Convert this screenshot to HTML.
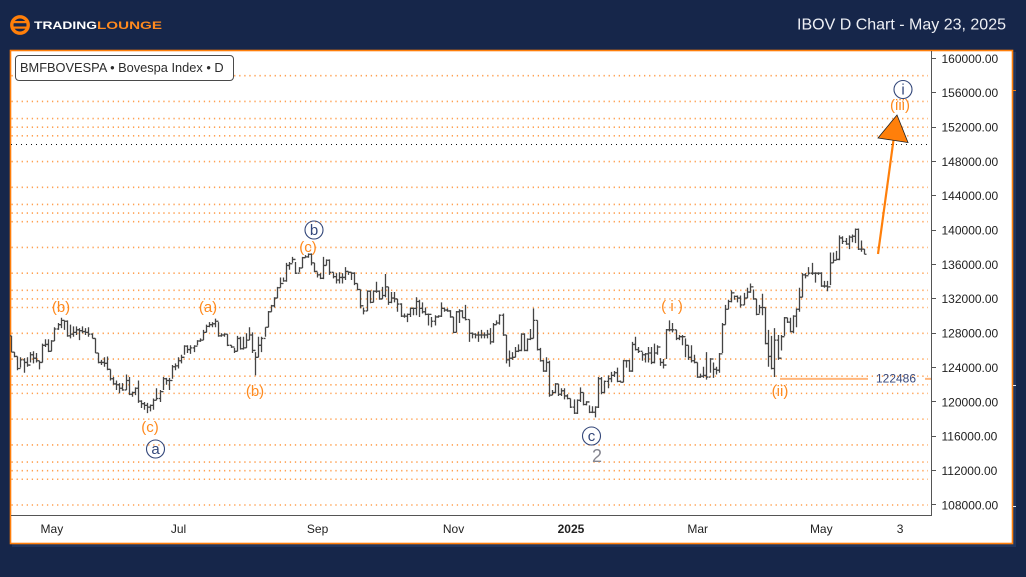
<!DOCTYPE html>
<html lang="en">
<head>
<meta charset="utf-8">
<title>IBOV D Chart - May 23, 2025</title>
<style>
html,body{margin:0;padding:0;background:#16264a;width:1026px;height:577px;overflow:hidden}
svg{display:block}
text{font-family:"Liberation Sans",Arial,sans-serif}
</style>
</head>
<body>
<svg id="root" xmlns="http://www.w3.org/2000/svg" width="1026" height="577" viewBox="0 0 1026 577">
  <rect x="0" y="0" width="1026" height="577" fill="#16264a"/>
  <g>
    <circle cx="20" cy="25" r="8.2" fill="none" stroke="#ff7f0a" stroke-width="3.4"/>
    <rect x="11" y="21" width="18" height="2.2" fill="#ff7f0a"/>
    <rect x="11" y="26.5" width="18" height="2.2" fill="#ff7f0a"/>
    <text x="34" y="29" font-size="11" font-weight="700" fill="#ffffff" textLength="63" lengthAdjust="spacingAndGlyphs">TRADING</text>
    <text x="97" y="29" font-size="11" font-weight="700" fill="#ff8a1e" textLength="65" lengthAdjust="spacingAndGlyphs">LOUNGE</text>
  </g>
  <text x="1006" y="29.5" font-size="16" fill="#eef0f5" text-anchor="end">IBOV D Chart - May 23, 2025</text>

  <rect x="12" y="52" width="1004" height="495" fill="#1f3560"/>
  <rect x="10.5" y="50.5" width="1002" height="493" fill="#ffffff" stroke="#ff7f0a" stroke-width="1.6"/>
  <rect x="1012" y="90" width="4" height="1" fill="#ff7f0a"/>
  <rect x="1013" y="385" width="3" height="1" fill="#e8e8f0"/>
  <rect x="1013" y="506" width="3" height="1" fill="#e8e8f0"/>

  <g id="grid"></g>
  <g id="bars"></g>

  <line x1="931.5" y1="51" x2="931.5" y2="515.5" stroke="#555" stroke-width="1"/>
  <line x1="11" y1="515.5" x2="932" y2="515.5" stroke="#555" stroke-width="1"/>
  <g id="priceAxis"></g>
  <g id="timeAxis"></g>

  <g>
    <rect x="15.5" y="55.5" width="218" height="25" rx="3.5" fill="#ffffff" stroke="#4a4a4a" stroke-width="1"/>
    <text x="20" y="72" font-size="12.8" fill="#2c2c2c">BMFBOVESPA • Bovespa Index • D</text>
  </g>

  <g id="support"></g>

  <g>
    <line x1="878" y1="254" x2="893.5" y2="140" stroke="#ff7f0a" stroke-width="2.2"/>
    <polygon points="897,115 878,138 908,142.5" fill="#ff7f0a" stroke="#222" stroke-width="0.8"/>
  </g>

  <g>
    <g font-size="15" fill="#ff8a1e" text-anchor="middle">
      <text x="61" y="312">(b)</text>
      <text x="208" y="312">(a)</text>
      <text x="255" y="396">(b)</text>
      <text x="150" y="432">(c)</text>
      <text x="308" y="252">(c)</text>
      <text x="672" y="311">( i )</text>
      <text x="780" y="396">(ii)</text>
      <text x="900" y="110">(iii)</text>
    </g>
    <g fill="none" stroke="#33477a" stroke-width="1.1">
      <circle cx="314" cy="230" r="9"/>
      <circle cx="155.500" cy="449" r="9"/>
      <circle cx="591.500" cy="436" r="9"/>
      <circle cx="903" cy="89.500" r="9"/>
    </g>
    <g font-size="15" fill="#33477a" text-anchor="middle">
      <text x="314" y="235">b</text>
      <text x="155.500" y="454">a</text>
      <text x="591.500" y="441">c</text>
      <text x="903" y="94.500">i</text>
    </g>
    <text x="597" y="462" font-size="18" fill="#85858f" text-anchor="middle">2</text>
  </g>
</svg>
<script>
// Daily bars, index points in thousands.
const highs = [
127.7,125.8,125.3,125.2,125.1,125.2,125.8,125.9,125.7,124.8,126.8,127.3,127.3,127.2,128.7,129.2,129.8,129.5,129.5,129.0,
128.8,128.8,128.6,128.8,128.6,128.7,128.0,127.4,125.7,124.9,125.2,125.3,123.8,122.9,122.5,122.2,122.2,123.2,122.9,121.2,
121.7,122.5,120.2,120.0,119.9,119.7,120.4,121.6,121.4,122.9,122.8,122.8,124.3,124.5,125.2,125.5,126.6,126.6,126.6,126.6,
127.2,127.4,128.4,129.0,129.3,129.3,129.7,129.3,128.0,128.0,127.9,126.6,126.3,127.7,127.6,127.6,128.0,128.7,128.1,125.8,
127.6,127.6,128.7,130.6,131.3,132.2,133.4,134.5,134.5,136.2,136.3,136.9,136.3,135.7,136.9,137.1,137.3,137.3,136.2,135.1,
135.0,136.9,136.6,136.6,135.1,135.0,135.1,135.0,135.7,135.2,135.1,135.1,133.8,133.1,131.0,133.0,133.0,133.0,134.0,133.0,
133.4,134.9,133.4,132.8,132.8,132.0,131.5,130.3,130.3,131.0,131.0,132.2,131.9,131.6,131.0,130.3,129.9,130.1,130.1,131.6,
131.0,130.9,130.7,129.9,130.6,130.8,130.7,131.3,129.6,128.1,128.0,128.2,128.4,128.1,128.4,128.6,129.2,129.5,130.2,130.3,
127.8,126.0,125.8,126.4,126.7,128.0,128.0,127.4,128.5,130.9,129.5,126.3,124.9,125.2,124.8,121.4,122.2,122.1,121.6,121.6,
120.9,120.4,120.3,120.3,121.7,121.1,120.1,119.6,119.5,119.5,122.9,122.9,122.5,123.1,123.5,123.6,124.0,122.5,124.9,124.9,
124.9,127.0,127.6,126.4,125.8,125.7,126.4,126.4,126.8,126.6,125.1,125.0,128.5,129.5,129.2,128.4,127.8,127.8,127.4,126.6,
126.6,125.5,124.6,123.3,124.1,125.8,125.1,124.6,124.1,125.7,129.2,131.3,131.9,133.0,132.4,132.4,132.4,132.7,133.3,133.8,
133.1,132.0,131.3,132.6,131.0,128.4,127.7,128.6,127.8,127.8,129.9,129.8,129.8,130.1,130.9,133.3,135.0,135.0,135.7,136.2,
135.1,135.1,135.1,134.1,134.1,137.4,137.4,137.6,139.4,139.3,139.1,139.4,139.5,140.2,140.2,138.8,137.8
];
const lows = [
125.8,125.2,123.7,124.0,123.4,124.1,124.6,124.5,124.6,123.8,124.6,126.4,125.8,125.9,127.1,128.4,128.6,128.4,127.6,127.4,
127.6,127.8,127.2,128.0,127.8,127.6,127.4,125.7,124.5,124.3,124.1,123.7,122.5,122.0,121.4,121.0,121.3,121.4,120.8,120.6,
120.8,119.9,119.3,119.1,118.7,118.9,119.1,120.2,120.0,121.4,122.0,121.4,122.7,123.7,123.9,124.5,125.5,125.7,125.6,125.8,
126.6,127.0,127.2,128.1,128.7,128.7,128.7,127.6,127.6,127.6,126.5,126.3,125.7,125.9,126.1,126.1,126.3,127.2,125.7,123.1,
125.2,125.8,127.6,128.7,130.5,131.0,132.1,133.3,134.0,134.0,135.4,136.2,134.9,135.1,135.6,136.8,136.8,135.9,135.1,134.5,
134.3,134.3,135.9,134.8,134.4,133.8,133.8,133.8,134.2,134.8,134.2,133.6,133.0,130.9,130.2,130.6,131.5,131.6,132.7,131.9,
132.0,132.2,131.3,131.5,131.6,130.5,129.9,129.8,129.3,129.9,130.1,130.1,129.9,130.3,130.1,128.9,128.7,128.9,129.8,129.9,
130.5,130.5,129.8,128.0,128.1,129.2,129.8,129.5,127.0,127.4,127.4,127.0,127.4,127.4,127.4,126.7,126.9,129.0,129.0,127.7,
124.5,124.1,124.9,125.2,125.8,125.9,125.9,125.9,127.2,127.4,126.0,124.7,123.5,123.5,120.6,120.8,121.0,120.7,120.7,120.3,
120.3,119.3,118.6,118.6,120.0,119.6,119.6,118.7,118.7,118.2,119.3,120.9,121.0,121.6,122.3,122.9,122.3,122.3,122.3,124.0,
123.5,123.5,126.0,125.7,124.8,124.6,124.6,124.4,124.5,125.5,124.2,123.9,125.0,128.2,128.1,127.2,127.2,126.6,125.2,124.9,
124.6,124.5,122.8,122.8,122.8,122.6,123.4,122.8,123.2,123.4,125.7,129.0,130.8,131.6,131.9,131.6,131.0,131.3,132.1,132.7,
131.9,130.1,130.3,130.1,126.7,124.1,123.8,122.9,124.9,126.0,127.7,129.2,128.1,128.0,128.7,130.5,132.2,134.4,134.8,134.8,
133.9,134.8,133.4,133.3,132.9,133.6,136.2,136.5,136.5,138.4,138.3,137.8,138.6,138.5,137.7,137.5,137.2
];
const closes = [
125.8,125.3,123.9,124.9,124.6,124.3,125.5,125.1,124.8,124.6,126.6,126.7,125.9,127.1,128.5,129.0,129.5,129.4,127.7,127.9,
128.1,128.4,128.3,128.2,128.1,127.9,127.4,125.7,124.6,124.6,124.5,123.8,122.7,122.1,122.0,121.6,121.4,122.5,120.9,121.1,
121.6,120.1,119.8,119.6,119.4,119.6,120.2,120.4,121.2,122.7,122.5,122.5,124.1,124.2,124.8,125.2,126.5,126.1,126.3,126.5,
127.1,127.2,128.1,128.8,129.0,129.1,129.4,127.7,127.8,127.9,126.6,126.4,125.9,127.4,126.2,126.3,127.2,127.8,126.0,125.2,
126.6,127.4,128.7,130.5,131.2,132.1,133.3,133.8,134.1,135.9,136.1,136.6,135.0,135.6,136.8,136.9,137.2,136.2,135.2,134.8,
134.4,135.9,136.5,135.1,134.6,134.2,134.5,134.5,135.2,135.1,135.0,133.8,133.1,131.2,130.6,132.9,131.6,132.9,132.9,132.0,
132.4,133.4,131.6,132.1,132.0,131.4,130.0,130.0,130.2,130.9,130.9,131.7,130.9,130.5,130.2,130.2,129.4,129.9,130.0,130.9,
130.7,130.6,129.9,128.1,130.5,130.6,129.8,129.6,128.0,127.9,127.8,127.8,127.8,127.8,127.9,127.0,129.0,129.2,130.1,127.8,
124.9,125.1,125.2,125.9,126.0,127.9,126.0,127.3,127.4,129.5,126.1,124.8,123.6,124.6,120.8,121.1,122.1,120.9,121.3,120.7,
120.4,119.4,118.7,120.2,121.1,119.7,120.0,118.8,118.8,119.4,122.7,121.1,122.4,122.7,123.1,123.4,122.4,122.3,124.8,124.8,
123.6,126.7,126.1,125.9,125.5,125.6,125.7,124.6,125.7,126.4,124.6,124.3,128.4,128.4,128.4,127.4,127.6,127.6,126.6,125.2,
124.8,124.6,122.9,123.0,123.1,122.9,125.0,123.8,123.7,125.6,129.0,130.8,131.7,132.7,132.3,132.1,131.3,132.1,132.8,133.4,
132.0,130.2,131.0,131.0,126.8,125.3,123.9,127.2,125.1,127.6,129.8,129.3,128.2,130.0,130.8,132.2,134.8,134.7,135.0,135.0,
135.0,135.0,133.5,133.5,133.4,136.2,136.5,136.6,139.1,138.7,138.4,139.2,139.3,140.1,137.8,137.8,137.2
];
const gridLevels = [108,111,112,113,115,118,121,122,123,125,128,131,132,133,135,138,141,142,143,145,148,151,152,153,155,158];
const referenceLevel = 150;
const priceTicks = [160000,156000,152000,148000,144000,140000,136000,132000,128000,124000,120000,116000,112000,108000];
const timeLabels = ["May","Jul","Sep","Nov","2025","Mar","May","3"];
const timeLabelBars = [13,54,99,143,181,222,262,287.5];
const supportValue = 122.69;
const supportLabel = "122486";

const NS = "http://www.w3.org/2000/svg";
function yScale(k){ return 58.5 + (160 - k) * 8.5865; }
function xScale(i){ return 11.7 + 3.09 * i; }
function snap(v){ return Math.round(v - 0.5) + 0.5; }
function mk(tag, parent){ const e = document.createElementNS(NS, tag); parent.appendChild(e); return e; }

const grid = document.getElementById("grid");
gridLevels.forEach(function(level){
  const l = mk("line", grid);
  
  
  const y = yScale(level);
  l.setAttribute("x1", 11.5); l.setAttribute("x2", 928);
  l.setAttribute("y1", y); l.setAttribute("y2", y);
  l.setAttribute("stroke", "#ffa050");
  l.setAttribute("stroke-width", "1.6");
  l.setAttribute("stroke-dasharray", "1.3 3.76");
});
const refLine = mk("line", grid);


refLine.setAttribute("x1", 11); refLine.setAttribute("x2", 931);
refLine.setAttribute("y1", snap(yScale(referenceLevel))); refLine.setAttribute("y2", snap(yScale(referenceLevel)));
refLine.setAttribute("stroke", "#111");
refLine.setAttribute("stroke-width", "1");
refLine.setAttribute("stroke-dasharray", "1 4");

const bars = document.getElementById("bars");
highs.forEach(function(h, i){
  const p = mk("path", bars);
  
  
  const x = snap(xScale(i));
  const open = i > 0 ? closes[i - 1] : highs[0];
  const d = "M" + x + " " + yScale(h) + "V" + yScale(lows[i]) +
            "M" + (x - 1.5) + " " + yScale(open) + "H" + x +
            "M" + x + " " + yScale(closes[i]) + "H" + (x + 2);
  p.setAttribute("d", d);
  p.setAttribute("fill", "none");
  p.setAttribute("stroke", "#444444");
  p.setAttribute("stroke-width", "1.3");
});

const priceAxis = document.getElementById("priceAxis");
priceTicks.forEach(function(v){
  const y = yScale(v / 1000);
  const t = mk("line", priceAxis);
  
  
  t.setAttribute("x1", 932); t.setAttribute("x2", 936);
  t.setAttribute("y1", snap(y)); t.setAttribute("y2", snap(y));
  t.setAttribute("stroke", "#555");
  const l = mk("text", priceAxis);
  
  
  l.setAttribute("x", 941.5);
  l.setAttribute("y", y + 4.3);
  l.setAttribute("font-size", "12");
  l.setAttribute("fill", "#222");
  l.textContent = v.toFixed(2);
});

const timeAxis = document.getElementById("timeAxis");
timeLabels.forEach(function(label, i){
  const l = mk("text", timeAxis);
  
  
  l.setAttribute("x", xScale(timeLabelBars[i]));
  l.setAttribute("y", 533);
  l.setAttribute("font-size", "12");
  l.setAttribute("fill", "#222");
  l.setAttribute("text-anchor", "middle");
  if (label === "2025") l.setAttribute("font-weight", "700");
  l.textContent = label;
});

const support = document.getElementById("support");
const sy = yScale(supportValue);
const s1 = mk("line", support);


s1.setAttribute("x1", 780); s1.setAttribute("x2", 868);
s1.setAttribute("y1", sy); s1.setAttribute("y2", sy);
s1.setAttribute("stroke", "#ffb67c");
s1.setAttribute("stroke-width", "2");
const s2 = mk("line", support);


s2.setAttribute("x1", 925); s2.setAttribute("x2", 931);
s2.setAttribute("y1", sy); s2.setAttribute("y2", sy);
s2.setAttribute("stroke", "#ffb67c");
s2.setAttribute("stroke-width", "2");
const s3 = mk("text", support);


s3.setAttribute("x", 896);
s3.setAttribute("y", sy + 3.7);
s3.setAttribute("font-size", "12");
s3.setAttribute("fill", "#3a4a7c");
s3.setAttribute("text-anchor", "middle");
s3.textContent = supportLabel;
</script>
</body>
</html>
